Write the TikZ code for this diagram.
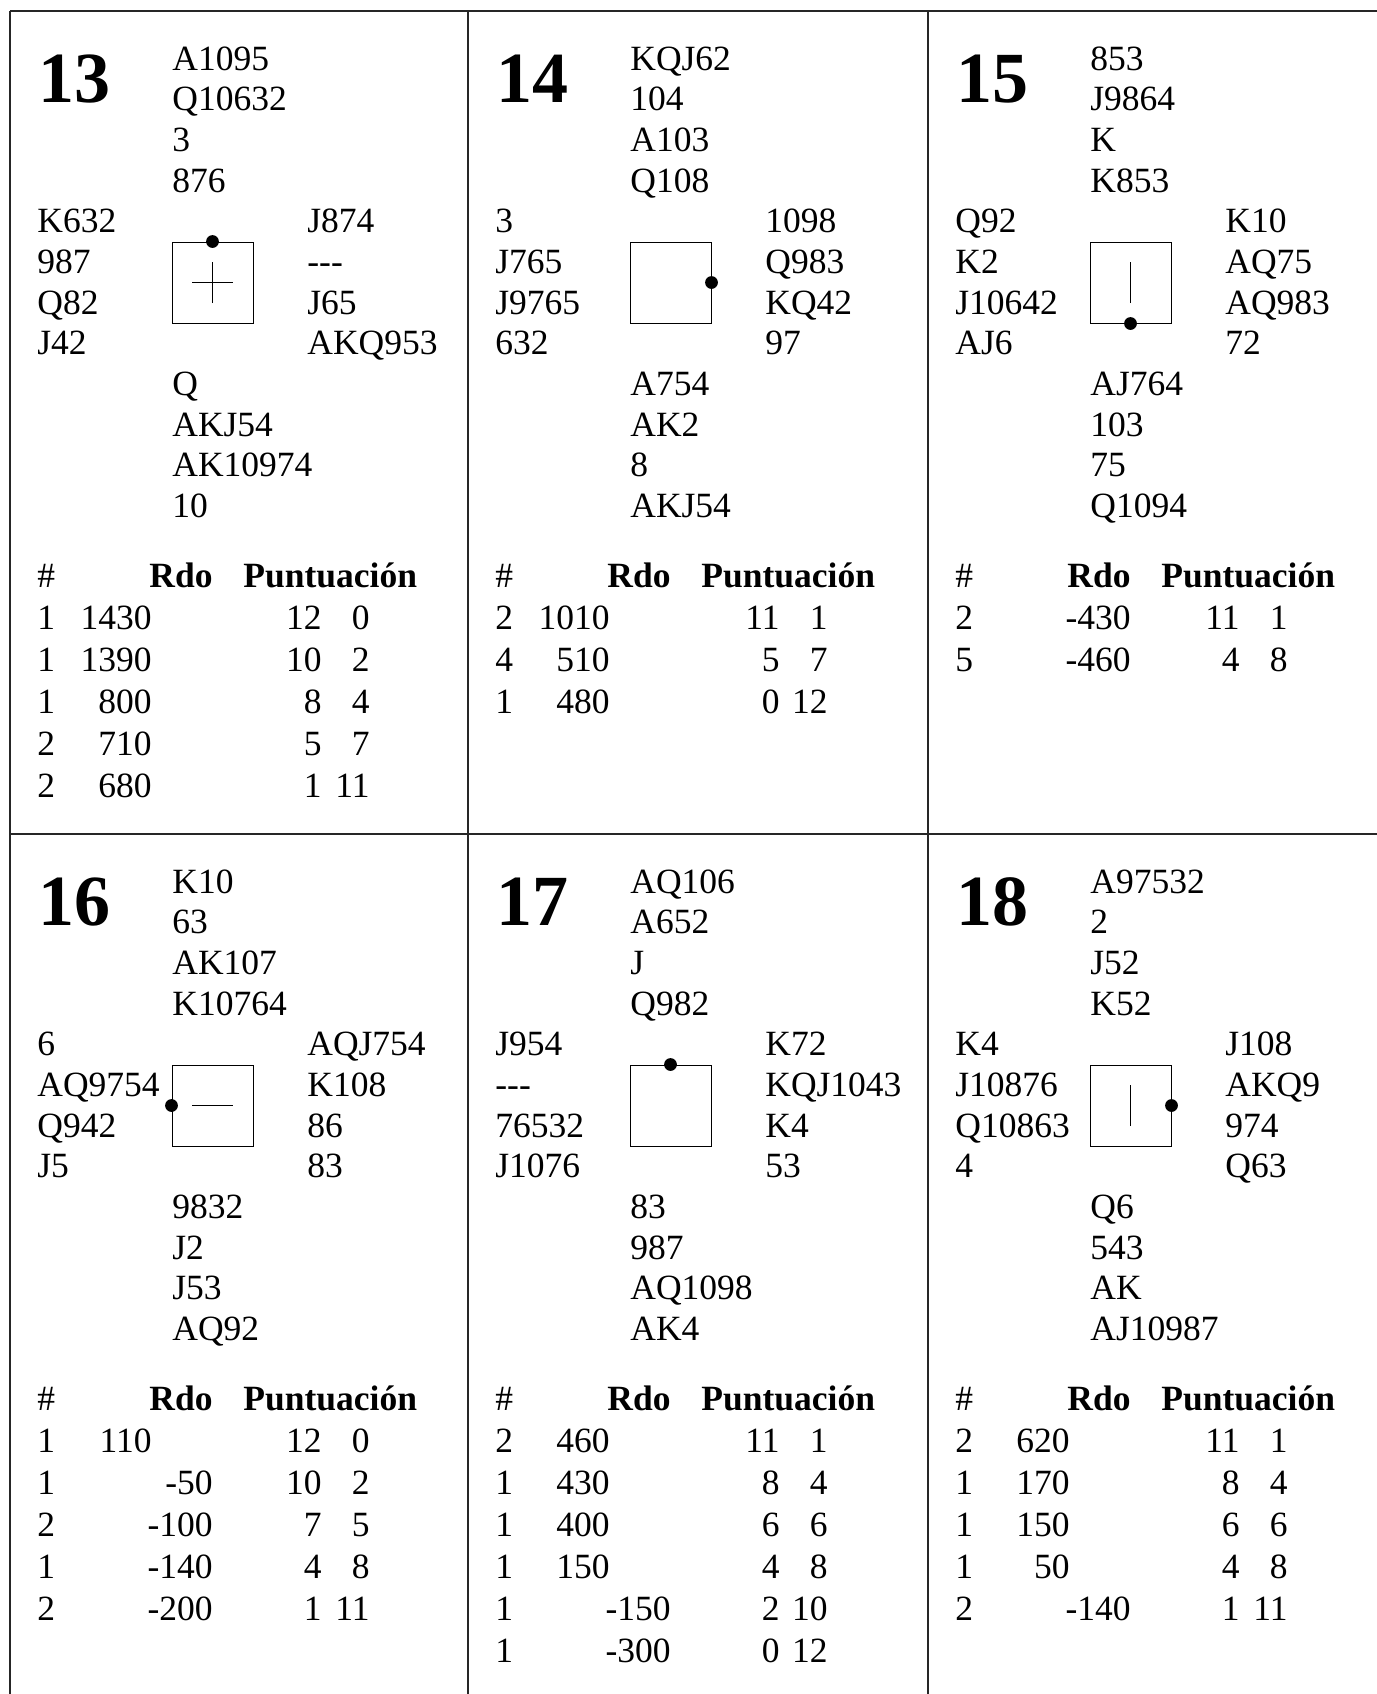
\documentclass[tikz,border=0pt]{standalone}
\usepackage{fontspec}
\setmainfont{Liberation Serif}
\usetikzlibrary{positioning}
\newcommand\handfont{\fontsize{17.75}{20}\selectfont}
\newcommand\voidsuit{-{}-{}-}
\tikzset{
  hand/.style    = {anchor=base west, inner sep=0pt, font=\handfont},
  numcol/.style  = {hand, anchor=base east},
  headcol/.style = {hand, font=\handfont\bfseries},
  boardno/.style = {anchor=base west, inner sep=0pt,
                    font=\fontsize{36}{40}\selectfont\bfseries},
  compass/.style = {rectangle, draw=black, line width=0.5pt, inner sep=0pt,
                    minimum size=40.5pt},
  dealer/.style  = {fill=black},
  vul/.style     = {draw=black, line width=0.45pt},
  gridline/.style= {draw=black!85, line width=0.7pt}
}
\newcommand\drawhands[5]{%
  \foreach \t [count=\i from 0] in {#2} \node[hand] (#1n\i) at (162,{59+\i*40.67}) {\t};
  \foreach \t [count=\i from 0] in {#3} \node[hand] (#1w\i) at (27,{59+(4+\i)*40.67}) {\t};
  \foreach \t [count=\i from 0] in {#4} \node[hand] (#1e\i) at (297,{59+(4+\i)*40.67}) {\t};
  \foreach \t [count=\i from 0] in {#5} \node[hand] (#1s\i) at (162,{59+(8+\i)*40.67}) {\t};
}
\newcommand\drawtable[2]{%
  \node[hand] (#1hash) at (27,576) {\#};
  \node[headcol, anchor=base east] (#1rdo) at (203,576) {Rdo};
  \node[headcol] (#1pts) at (233,576) {Puntuación};
  \foreach \cnt/\ns/\ew/\mpa/\mpb [count=\k] in {#2} {
    \node[hand]   (#1c\k)  at (27,{576+\k*42})  {\cnt};
    \node[numcol] (#1ns\k) at (142,{576+\k*42}) {\ns};
    \node[numcol] (#1ew\k) at (203,{576+\k*42}) {\ew};
    \node[numcol] (#1pa\k) at (312,{576+\k*42}) {\mpa};
    \node[numcol] (#1pb\k) at (360,{576+\k*42}) {\mpb};
  }
}
\begin{document}
\begin{tikzpicture}[x=0.5pt, y=-0.5pt]
  \useasboundingbox[fill=white] (0,0) rectangle (1377,1694);
  \draw[gridline] (10,11) -- (1400,11);
  \draw[gridline] (10,834) -- (1400,834);
  \foreach \x in {10,468,928} \draw[gridline] (\x,11) -- (\x,1720);

  \begin{scope}[shift={(10,11)}]
    \node[boardno] (b13) at (28,91) {13};
    \drawhands{h13}{A1095,Q10632,3,876}{K632,987,Q82,J42}{J874,\voidsuit,J65,AKQ953}{Q,AKJ54,AK10974,10}
    \node[compass] (c13) at (202.5,271.5) {};
    \draw[vul] ([xshift=-10.25pt]c13.center) -- ([xshift=10.25pt]c13.center);
    \draw[vul] ([yshift=-10.25pt]c13.center) -- ([yshift=10.25pt]c13.center);
    \fill[dealer] (c13.north) circle[radius=3.2pt];
    \drawtable{t13}{1/1430/{}/12/0, 1/1390/{}/10/2, 1/800/{}/8/4, 2/710/{}/5/7, 2/680/{}/1/11}
  \end{scope}

  \begin{scope}[shift={(468,11)}]
    \node[boardno] (b14) at (28,91) {14};
    \drawhands{h14}{KQJ62,104,A103,Q108}{3,J765,J9765,632}{1098,Q983,KQ42,97}{A754,AK2,8,AKJ54}
    \node[compass] (c14) at (202.5,271.5) {};
    \fill[dealer] (c14.east) circle[radius=3.2pt];
    \drawtable{t14}{2/1010/{}/11/1, 4/510/{}/5/7, 1/480/{}/0/12}
  \end{scope}

  \begin{scope}[shift={(928,11)}]
    \node[boardno] (b15) at (28,91) {15};
    \drawhands{h15}{853,J9864,K,K853}{Q92,K2,J10642,AJ6}{K10,AQ75,AQ983,72}{AJ764,103,75,Q1094}
    \node[compass] (c15) at (202.5,271.5) {};
    \draw[vul] ([yshift=-10.25pt]c15.center) -- ([yshift=10.25pt]c15.center);
    \fill[dealer] (c15.south) circle[radius=3.2pt];
    \drawtable{t15}{2/{}/-430/11/1, 5/{}/-460/4/8}
  \end{scope}

  \begin{scope}[shift={(10,834)}]
    \node[boardno] (b16) at (28,91) {16};
    \drawhands{h16}{K10,63,AK107,K10764}{6,AQ9754,Q942,J5}{AQJ754,K108,86,83}{9832,J2,J53,AQ92}
    \node[compass] (c16) at (202.5,271.5) {};
    \draw[vul] ([xshift=-10.25pt]c16.center) -- ([xshift=10.25pt]c16.center);
    \fill[dealer] (c16.west) circle[radius=3.2pt];
    \drawtable{t16}{1/110/{}/12/0, 1/{}/-50/10/2, 2/{}/-100/7/5, 1/{}/-140/4/8, 2/{}/-200/1/11}
  \end{scope}

  \begin{scope}[shift={(468,834)}]
    \node[boardno] (b17) at (28,91) {17};
    \drawhands{h17}{AQ106,A652,J,Q982}{J954,\voidsuit,76532,J1076}{K72,KQJ1043,K4,53}{83,987,AQ1098,AK4}
    \node[compass] (c17) at (202.5,271.5) {};
    \fill[dealer] (c17.north) circle[radius=3.2pt];
    \drawtable{t17}{2/460/{}/11/1, 1/430/{}/8/4, 1/400/{}/6/6, 1/150/{}/4/8, 1/{}/-150/2/10, 1/{}/-300/0/12}
  \end{scope}

  \begin{scope}[shift={(928,834)}]
    \node[boardno] (b18) at (28,91) {18};
    \drawhands{h18}{A97532,2,J52,K52}{K4,J10876,Q10863,4}{J108,AKQ9,974,Q63}{Q6,543,AK,AJ10987}
    \node[compass] (c18) at (202.5,271.5) {};
    \draw[vul] ([yshift=-10.25pt]c18.center) -- ([yshift=10.25pt]c18.center);
    \fill[dealer] (c18.east) circle[radius=3.2pt];
    \drawtable{t18}{2/620/{}/11/1, 1/170/{}/8/4, 1/150/{}/6/6, 1/50/{}/4/8, 2/{}/-140/1/11}
  \end{scope}
\end{tikzpicture}
\end{document}
